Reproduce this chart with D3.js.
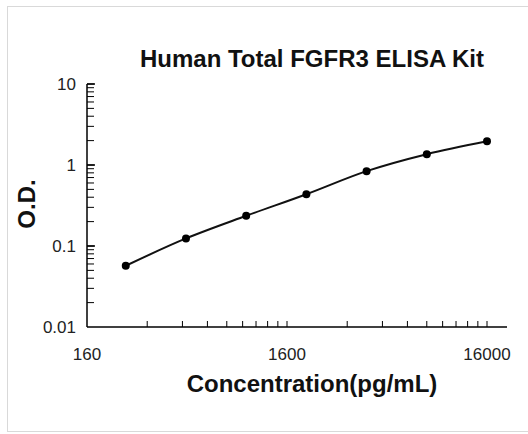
<!DOCTYPE html>
<html>
<head>
<meta charset="utf-8">
<script src="https://cdn.jsdelivr.net/npm/d3@7"></script>
<style>
  body { margin: 0; background: #fff; }
  svg { display: block; font-family: "Liberation Sans", Arial, sans-serif; }
</style>
</head>
<body>
<div class="chart"></div>
<script>
// standard curve points
const concentrations = [250, 500, 1000, 2000, 4000, 8000, 16000];
const odValues = [0.057, 0.124, 0.236, 0.436, 0.84, 1.36, 1.96];
const xTickLabels = [160, 1600, 16000];
const yTickLabels = [0.01, 0.1, 1, 10];

const width = 528;
const height = 434;

const svg = d3.select('.chart').append('svg')
  .attr('width', width)
  .attr('height', height);

// light frame around the chart area
svg.append('rect')
  .attr('x', 7.5).attr('y', 6.5)
  .attr('width', 526).attr('height', 425)
  .attr('fill', 'none')
  .attr('stroke', '#d9d9d9');

const x = d3.scaleLog().domain([160, 16000]).range([87, 487]);
const y = d3.scaleLog().domain([0.01, 10]).range([327, 84]);

// minor ticks 2..9 in each decade
const xMinor = [];
for (let d = 160; d < 16000; d *= 10) {
  for (let k = 2; k <= 10; k++) xMinor.push(d * k);
}
const yMinor = [];
for (let d = 0.01; d < 9.9; d *= 10) {
  for (let k = 2; k <= 10; k++) yMinor.push(+(d * k).toPrecision(3));
}

// x axis
const xg = svg.append('g').attr('transform', `translate(0,${y(0.01)})`);
xg.append('line')
  .attr('x1', x(160)).attr('x2', 507)
  .attr('stroke', '#000').attr('stroke-width', 1.5);
xg.selectAll('.xminor')
  .data(xMinor)
  .enter().append('line')
  .attr('x1', d => x(d)).attr('x2', d => x(d))
  .attr('y1', 0).attr('y2', -6)
  .attr('stroke', '#000').attr('stroke-width', 1);
xg.selectAll('.xlabel')
  .data(xTickLabels)
  .enter().append('text')
  .attr('x', d => x(d))
  .attr('y', 33)
  .attr('text-anchor', 'middle')
  .attr('font-size', 17)
  .attr('fill', '#222')
  .text(d => d);

// y axis
const yg = svg.append('g').attr('transform', `translate(${x(160)},0)`);
yg.append('line')
  .attr('y1', y(10)).attr('y2', y(0.01))
  .attr('stroke', '#000').attr('stroke-width', 1.5);
yg.selectAll('.ymajor')
  .data(yTickLabels.filter(d => d > 0.01))
  .enter().append('line')
  .attr('y1', d => y(d)).attr('y2', d => y(d))
  .attr('x1', 0).attr('x2', 8)
  .attr('stroke', '#000').attr('stroke-width', 1.5);
yg.selectAll('.yminor')
  .data(yMinor)
  .enter().append('line')
  .attr('y1', d => y(d)).attr('y2', d => y(d))
  .attr('x1', 0).attr('x2', 7)
  .attr('stroke', '#000').attr('stroke-width', 1);
yg.selectAll('.ylabel')
  .data(yTickLabels)
  .enter().append('text')
  .attr('x', -11)
  .attr('y', d => y(d))
  .attr('dy', '0.35em')
  .attr('text-anchor', 'end')
  .attr('font-size', 17)
  .attr('fill', '#222')
  .text(d => d);

// curve + points
const line = d3.line()
  .x((d, i) => x(concentrations[i]))
  .y(d => y(d))
  .curve(d3.curveCatmullRom);

svg.append('path')
  .datum(odValues)
  .attr('d', line)
  .attr('fill', 'none')
  .attr('stroke', '#111')
  .attr('stroke-width', 2);

svg.selectAll('.dot')
  .data(odValues)
  .enter().append('circle')
  .attr('cx', (d, i) => x(concentrations[i]))
  .attr('cy', d => y(d))
  .attr('r', 4)
  .attr('fill', '#000');

// titles
svg.append('text')
  .attr('x', 312).attr('y', 67)
  .attr('text-anchor', 'middle')
  .attr('font-size', 24).attr('font-weight', 'bold')
  .attr('fill', '#111')
  .text('Human Total FGFR3 ELISA Kit');

svg.append('text')
  .attr('x', 312).attr('y', 392)
  .attr('text-anchor', 'middle')
  .attr('font-size', 24).attr('font-weight', 'bold')
  .attr('fill', '#111')
  .text('Concentration(pg/mL)');

svg.append('text')
  .attr('transform', 'translate(35,204) rotate(-90)')
  .attr('text-anchor', 'middle')
  .attr('font-size', 24).attr('font-weight', 'bold')
  .attr('fill', '#111')
  .text('O.D.');
</script>
</body>
</html>
